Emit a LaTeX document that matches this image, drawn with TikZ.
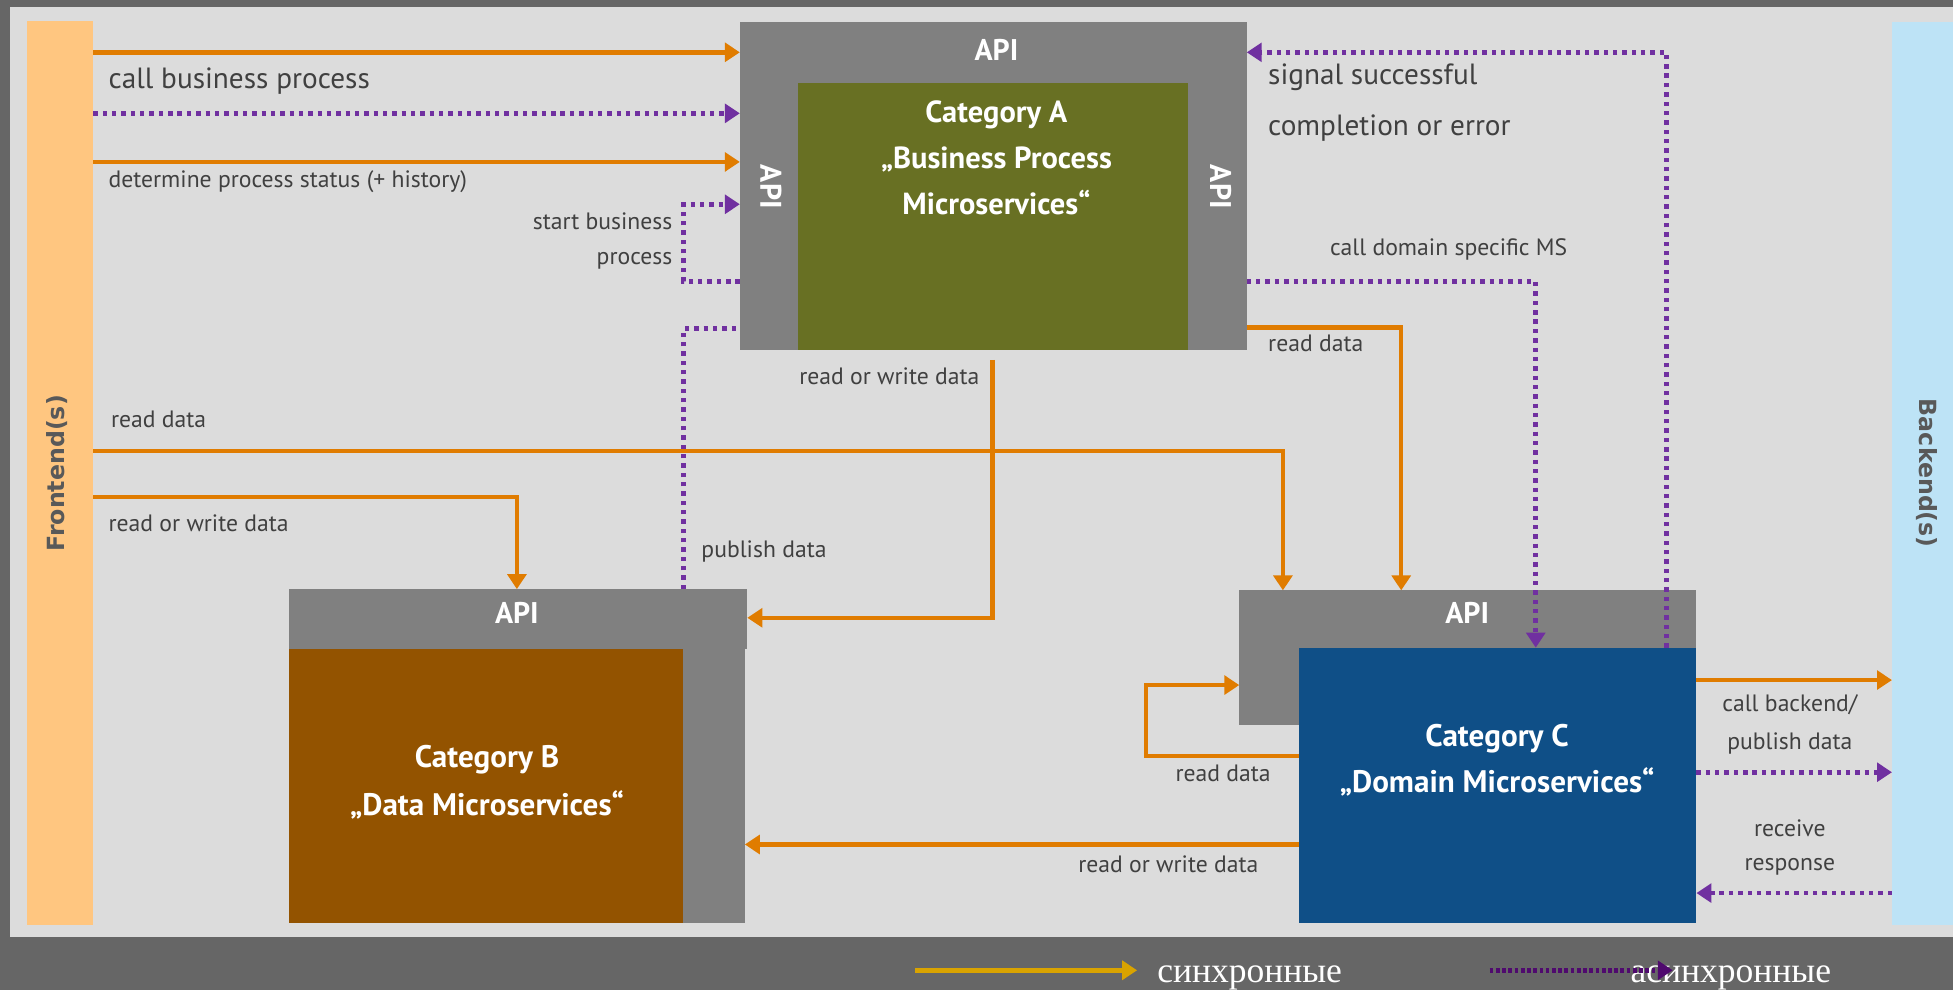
\documentclass[tikz,border=0pt]{standalone}
\usepackage{fontspec}
\setmainfont{PT Sans}
\newfontfamily\legendfont{Liberation Serif}
\newfontfamily\sidefont{DejaVu Sans}
\usetikzlibrary{arrows.meta}

\definecolor{cBgDark}{HTML}{666666}
\definecolor{cPanel}{HTML}{DCDCDC}
\definecolor{cFront}{HTML}{FFC680}
\definecolor{cBack}{HTML}{BDE3F6}
\definecolor{cApi}{HTML}{808080}
\definecolor{cOlive}{HTML}{687023}
\definecolor{cBrown}{HTML}{935300}
\definecolor{cNavy}{HTML}{0F4F87}
\definecolor{cOrange}{HTML}{E07C00}
\definecolor{cPurple}{HTML}{7030A0}
\definecolor{cLabel}{HTML}{404040}
\definecolor{cSide}{HTML}{595959}
\definecolor{cLegGold}{HTML}{D9A300}
\definecolor{cLegPurple}{HTML}{4F0A6E}

\tikzset{
  blockbox/.style={draw=none, inner sep=0pt, outer sep=0pt, anchor=north west},
  apilabel/.style={text=white, inner sep=0pt, font=\bfseries\fontsize{24}{28}\selectfont},
  titletext/.style={text=white, inner sep=0pt, align=center, font=\bfseries\fontsize{24.5}{37}\selectfont},
  sidelabel/.style={text=cSide, inner sep=0pt, font=\sidefont\bfseries\fontsize{19}{22}\selectfont},
  smalllbl/.style={text=cLabel, inner sep=0pt, font=\fontsize{19}{22}\selectfont},
  biglbl/.style={text=cLabel, inner sep=0pt, font=\fontsize{23.5}{28}\selectfont},
  tip/.style={-{Triangle[length=12pt,width=15pt]}},
  syncflow/.style={draw=cOrange, line width=3.6pt, tip},
  asyncline/.style={draw=cPurple, line width=3.8pt, dash pattern=on 3.5pt off 4pt},
  asyncflow/.style={asyncline, tip},
  legtext/.style={text=white, inner sep=0pt, anchor=base west, font=\legendfont\fontsize{28.5}{32}\selectfont},
}

\begin{document}
\begin{tikzpicture}[x=1pt, y=-1pt]
\useasboundingbox (0,0) rectangle (1568,795);
\fill[cBgDark] (0,0) rectangle (1568,795);
\fill[cPanel] (8,6) rectangle (1568,752);

% frontend and backend bars
\node[blockbox, fill=cFront, minimum width=53pt, minimum height=726pt] (fe) at (22,17) {};
\node[sidelabel, rotate=90] (felbl) at (46,380) {Frontend(s)};
\node[blockbox, fill=cBack, minimum width=49pt, minimum height=725pt] (be) at (1519,18) {};
\node[sidelabel, rotate=-90] (belbl) at (1547,380) {Backend(s)};

% category A
\node[blockbox, fill=cApi, minimum width=407pt, minimum height=263pt] (Aout) at (594,18) {};
\node[blockbox, fill=cOlive, minimum width=313pt, minimum height=214pt] (Ain) at (641,67) {};
\node[apilabel] (Aapi) at (800,40) {API};
\node[apilabel, rotate=-90] (AapiL) at (619,150) {API};
\node[apilabel, rotate=-90] (AapiR) at (980,150) {API};
\node[titletext] (Atitle) at (800,127) {Category A\\„Business Process\\Microservices“};

% category B
\node[blockbox, fill=cApi, minimum width=368pt, minimum height=48pt] (Bapi) at (232,473) {};
\node[blockbox, fill=cApi, minimum width=50pt, minimum height=220pt] (Bstrip) at (548,521) {};
\node[blockbox, fill=cBrown, minimum width=316pt, minimum height=220pt] (Bbody) at (232,521) {};
\node[apilabel] (Bapilbl) at (415,492) {API};
\node[titletext, font=\bfseries\fontsize{25}{38}\selectfont] (Btitle) at (391,628) {Category B\\„Data Microservices“};

% category C
\node[blockbox, fill=cApi, minimum width=367pt, minimum height=108pt] (Cgray) at (995,474) {};
\node[blockbox, fill=cNavy, minimum width=319pt, minimum height=221pt] (Cbody) at (1043,520) {};
\node[apilabel] (Capilbl) at (1178,492) {API};
\node[titletext, font=\bfseries\fontsize{25}{37}\selectfont] (Ctitle) at (1202,610) {Category C\\„Domain Microservices“};

% frontend -> category A
\draw[syncflow] (fe.east |- 0,42) -- (Aout.west |- 0,42);
\draw[asyncflow] (fe.east |- 0,91) -- (Aout.west |- 0,91);
\draw[syncflow] (fe.east |- 0,130) -- (Aout.west |- 0,130);
\node[biglbl, anchor=west] (l1) at (87,65) {call business process};
\node[smalllbl, anchor=west] (l2) at (87,146) {determine process status (+ history)};

% category A starts its own process
\draw[asyncflow] (Aout.west |- 0,226) -| (549,164) -- (Aout.west |- 0,164);
\node[smalllbl, anchor=east] (l3) at (540,178) {start business};
\node[smalllbl, anchor=east] (l4) at (540,209) {process};

% category B publishes data to category A
\draw[asyncline] (Bapi.north -| 549,0) |- (Aout.west |- 0,264);
\node[smalllbl, anchor=west] (l5) at (563,443) {publish data};

% category A reads or writes data in category B
\coordinate (Arw) at (797,289);
\draw[syncflow] (Arw) |- (Bapi.east |- 0,496);
\node[smalllbl] (l6) at (714,302) {read or write data};

% frontend -> category C / category B
\draw[syncflow] (fe.east |- 0,362) -| (Cgray.north -| 1030,0);
\node[smalllbl, anchor=west] (l7) at (89,337) {read data};
\draw[syncflow] (fe.east |- 0,399) -| (Bapi.north -| 415,0);
\node[smalllbl, anchor=west] (l8) at (87,420) {read or write data};

% category A -> category C
\draw[syncflow] (Aout.east |- 0,263) -| (Cgray.north -| 1125,0);
\node[smalllbl, anchor=west] (l9) at (1018,276) {read data};
\draw[asyncflow] (Aout.east |- 0,226) -| (Cbody.north -| 1233,0);
\node[smalllbl] (l10) at (1163,200) {call domain specific MS};
\draw[asyncflow] (Cbody.north -| 1338,0) |- (Aout.east |- 0,42);
\node[biglbl, anchor=west] (l11) at (1018,62) {signal successful};
\node[biglbl, anchor=west] (l12) at (1018,103) {completion or error};

% category C internal and towards B
\draw[syncflow] (Cbody.west |- 0,607) -| (920,550) -- (Cgray.west |- 0,550);
\node[smalllbl] (l13) at (982,621) {read data};
\draw[syncflow] (Cbody.west |- 0,678) -- (Bstrip.east |- 0,678);
\node[smalllbl] (l14) at (938,694) {read or write data};

% category C <-> backend
\draw[syncflow] (Cbody.east |- 0,546) -- (be.west |- 0,546);
\node[smalllbl] (l15) at (1437,566) {call backend/};
\node[smalllbl] (l16) at (1437,597) {publish data};
\draw[asyncflow] (Cbody.east |- 0,620) -- (be.west |- 0,620);
\node[smalllbl] (l17) at (1437,665) {receive};
\node[smalllbl] (l18) at (1437,696) {response};
\draw[asyncflow] (be.west |- 0,717) -- (Cbody.east |- 0,717);

% legend
\coordinate (legS1) at (735,779);
\coordinate (legS2) at (913,779);
\draw[draw=cLegGold, line width=4pt, tip] (legS1) -- (legS2);
\node[legtext] (legSync) at (929,789) {синхронные};
\node[legtext] (legAsync) at (1309,789) {асинхронные};
\coordinate (legA1) at (1196,779);
\coordinate (legA2) at (1343,779);
\draw[draw=cLegPurple, line width=4pt, dash pattern=on 3pt off 2pt, tip] (legA1) -- (legA2);
\end{tikzpicture}
\end{document}
